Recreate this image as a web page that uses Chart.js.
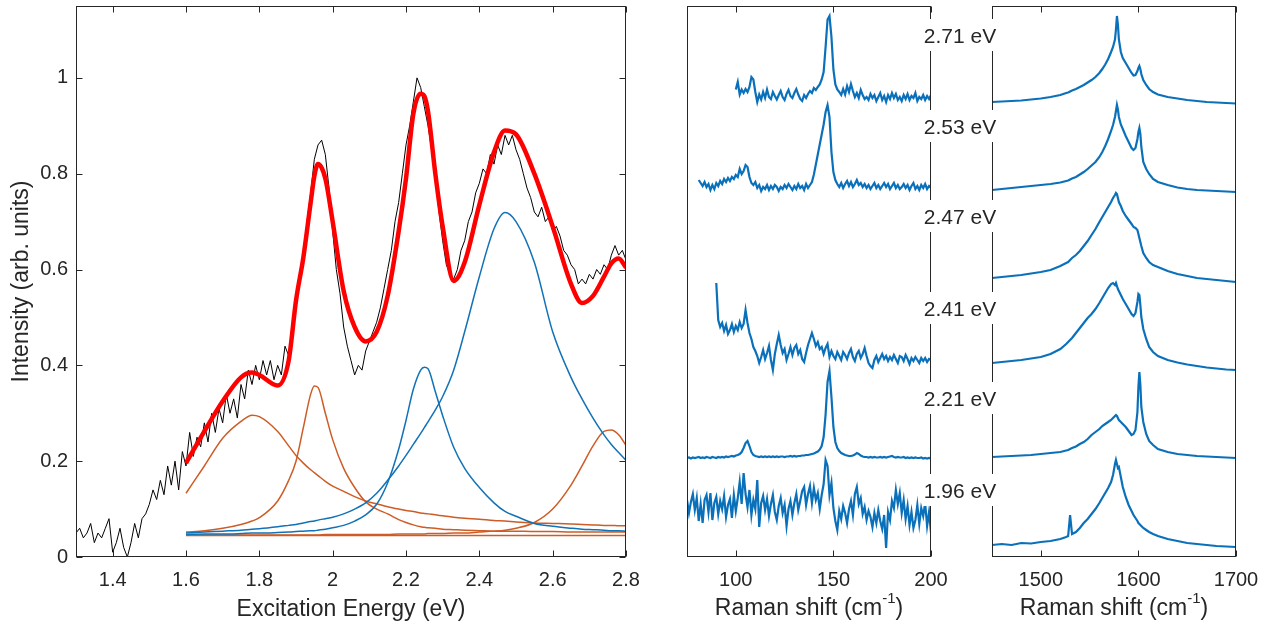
<!DOCTYPE html>
<html>
<head>
<meta charset="utf-8">
<script src="https://cdn.jsdelivr.net/npm/chart.js@4.4.0/dist/chart.umd.min.js"></script>
<style>
  body { margin: 0; background: #fff; }
  #wrap { position: relative; width: 1278px; height: 632px; overflow: hidden; }
  canvas { position: absolute; top: 0; }
</style>
</head>
<body>
<div id="wrap">
  <canvas id="excChart" width="650" height="632" style="left:0px"></canvas>
  <canvas id="lowChart" width="320" height="632" style="left:640px"></canvas>
  <canvas id="gChart" width="378" height="632" style="left:900px"></canvas>
</div>
<script>
// ---- left panel: excitation profile ----
const energyStart = 1.3, energyStep = 0.01;
const measured = [
  0.05,0.06,0.04,0.05,0.07,0.03,0.05,0.04,0.06,0.08,0.01,0.03,0.06,0.02,0.0,0.03,0.07,0.04,0.08,
  0.09,0.11,0.14,0.12,0.16,0.13,0.19,0.15,0.2,0.14,
  0.22,0.19,0.26,0.21,0.25,0.23,0.28,0.24,0.3,0.26,
  0.31,0.28,0.34,0.3,0.33,0.29,0.36,0.33,0.39,0.36,
  0.4,0.37,0.41,0.38,0.41,0.37,0.4,0.38,0.44,0.42,
  0.47,0.52,0.58,0.63,0.7,0.76,0.83,0.86,0.87,0.84,
  0.77,0.68,0.6,0.55,0.48,0.44,0.41,0.38,0.4,0.39,
  0.43,0.45,0.47,0.49,0.52,0.56,0.6,0.64,0.7,0.74,
  0.8,0.86,0.9,0.95,1.0,0.98,0.94,0.9,0.85,0.79,
  0.72,0.66,0.61,0.59,0.58,0.6,0.64,0.66,0.7,0.72,
  0.76,0.78,0.81,0.8,0.84,0.82,0.86,0.84,0.88,0.86,
  0.88,0.85,0.83,0.8,0.77,0.75,0.72,0.71,0.73,0.7,
  0.71,0.68,0.69,0.67,0.64,0.63,0.61,0.6,0.57,0.58,
  0.57,0.59,0.58,0.6,0.59,0.61,0.6,0.63,0.65,0.63,
  0.64,0.62
];

const fitX = [1.6,1.65,1.7,1.75,1.78,1.8,1.85,1.88,1.9,1.92,1.94,1.95,1.96,1.98,2.0,2.03,2.06,2.09,2.12,2.15,2.18,
  2.2,2.22,2.24,2.25,2.26,2.28,2.3,2.33,2.36,2.4,2.44,2.47,2.5,2.55,2.6,2.65,2.68,2.71,2.74,2.76,2.78,2.8];
const fitTotal = [0.196,0.262,0.325,0.375,0.385,0.38,0.358,0.41,0.535,0.625,0.74,0.795,0.82,0.79,0.7,0.555,0.48,0.45,0.47,0.545,0.68,
  0.79,0.925,0.967,0.962,0.93,0.8,0.69,0.576,0.615,0.735,0.845,0.89,0.882,0.8,0.69,0.57,0.53,0.545,0.585,0.613,0.623,0.604];
const band178 = [0.133,0.19,0.248,0.283,0.296,0.293,0.262,0.232,0.212,0.196,0.182,0.176,0.17,0.158,0.148,0.137,0.126,0.117,0.111,0.105,0.1,
  0.097,0.095,0.092,0.091,0.09,0.088,0.086,0.083,0.081,0.079,0.076,0.075,0.073,0.071,0.07,0.069,0.068,0.067,0.066,0.066,0.065,0.065];
const band195 = [0.052,0.055,0.06,0.068,0.075,0.082,0.117,0.16,0.2,0.27,0.34,0.357,0.354,0.3,0.245,0.185,0.145,0.115,0.1,0.09,0.078,
  0.072,0.067,0.063,0.062,0.061,0.06,0.058,0.057,0.056,0.055,0.054,0.054,0.054,0.053,0.053,0.052,0.052,0.052,0.052,0.052,0.052,0.052];
const band225 = [0.047,0.048,0.048,0.049,0.05,0.05,0.051,0.052,0.053,0.054,0.055,0.055,0.056,0.058,0.061,0.066,0.075,0.088,0.11,0.155,0.225,
  0.285,0.35,0.39,0.396,0.393,0.345,0.295,0.229,0.185,0.145,0.113,0.095,0.085,0.07,0.064,0.06,0.058,0.057,0.056,0.055,0.055,0.054];
const band247 = [0.05,0.052,0.054,0.056,0.058,0.059,0.063,0.066,0.068,0.071,0.074,0.075,0.077,0.08,0.083,0.09,0.1,0.113,0.133,0.16,0.19,
  0.212,0.235,0.258,0.27,0.282,0.307,0.335,0.39,0.47,0.585,0.685,0.719,0.7,0.615,0.47,0.375,0.33,0.29,0.255,0.235,0.218,0.202];
const band276 = [0.046,0.046,0.046,0.046,0.046,0.046,0.046,0.046,0.046,0.046,0.046,0.046,0.046,0.047,0.047,0.047,0.047,0.047,0.047,0.047,0.048,
  0.048,0.048,0.048,0.048,0.049,0.049,0.049,0.05,0.05,0.052,0.054,0.056,0.06,0.072,0.1,0.15,0.19,0.232,0.262,0.265,0.255,0.233];
const background = [0.045, 0.045];

const excXTicks = [1.4,1.6,1.8,2,2.2,2.4,2.6,2.8];
const excYTicks = [0,0.2,0.4,0.6,0.8,1];

// ---- middle panel: low-frequency Raman ----
const lowTicks = [100,150,200];
const lowStart = [100, 81, 90, 75, 75];
const low271 = [93.5,95,92.5,93.5,92.8,93.6,93,94,96,95.5,93,91,92.5,91.5,93,91.8,93.5,92,91.6,93,92.2,91.5,92.4,93.2,92,91.4,92.6,93.4,92.2,91.8,
  92.8,93.6,92.5,91.6,91.2,92.4,91.8,92.6,93.2,92.8,93.8,93.4,94,94.5,95.5,97,102,107.5,108.2,104,97.5,94.5,93.5,93,92.4,93.6,92.5,94.2,93,94.6,
  93.2,92,92.8,91.8,93.4,92.4,91.6,92,91.4,92.6,91.8,92.4,91.2,92,92.8,91.4,92.2,91,92.4,91.6,92.8,91.8,92.6,91.4,92,91.2,92.4,91.6,92.6,91.4,
  92.2,91.8,92.8,91.2,92,91.6,92.4,91.4,92.2,91.6,92.4];
const low253 = [75.4,74.8,74.2,75,74,74.6,73.4,74.4,73.6,74.8,74.2,75.2,74.6,75.6,75,75.8,75.2,76,75.6,76.4,76,77.6,76.6,77.2,78.4,78,76,74.8,74.4,75,
  73.8,74.4,73.2,74,73.6,74.4,73.4,74.2,73.6,74.4,74,73.2,74,73.6,74.4,73.8,74.6,74,73.4,74.2,73.6,74.6,73.8,74.2,73.4,74.6,73.8,74.4,75,76.5,
  78.5,80.5,82.5,84.5,86.5,89,90.4,88,81,77,75.4,74.6,74,74.8,73.8,74.6,75.2,74.2,75,74,74.6,75.4,74.4,74.8,74,74.6,73.8,74.4,73.6,74.2,
  74.8,73.8,74.4,73.6,74.2,74.8,74,74.6,73.6,74.2,74.8,73.8,74.4,73.6,74,74.6,73.8,74.4,73.4,74.2,74.8,73.6,74.2,73.4,74.4,73.8,74.6,73.6,74.2,73.8];
const low241 = [54.8,47.4,46,46.8,45.2,46.4,44.6,45.4,46.6,45,46.2,45.4,47,45.8,46.6,49.4,46.8,44.8,43.6,42,41.2,40.2,38.8,40,41.4,39.6,40.8,42.2,39.4,37.4,
  40.6,42.6,44.4,42.4,40.8,41.6,39.4,40.6,42,40.4,41.8,42.4,40.6,41.4,39.6,39,40.8,42.4,43.6,44.8,43.6,42.2,43,41.6,42,40.6,41.8,42.6,40,41.2,
  40.2,39.6,41,40.2,39.4,41,40.4,39.6,40.8,41.6,40,39.2,40.6,41.2,39.8,40.6,41.8,40.2,38.8,38.2,37.8,39.4,40.2,39,39.8,40.6,39.6,40.2,39.2,40,
  39.4,40.4,39.6,38.8,40.2,40,39.2,40.4,39.6,38.6,39.8,39.2,40,39.4,38.8,39.8,39.2,39.8,39,39.6,39.4];
const low221 = [19.8,19.9,19.7,19.9,19.8,19.9,20,19.8,19.9,19.8,20,19.9,19.8,20,19.9,19.8,20,19.9,20,19.9,20.1,20,20.1,20.2,20.1,20.3,20.4,20.6,21,21.8,
  22.8,23.2,22.2,21,20.4,20.2,20.1,20,20.1,20,20.1,20,20.1,20,20.1,20,20.1,20,20.1,20.1,20,20.1,20.1,20.2,20.1,20.2,20.1,20.2,20.2,20.3,
  20.3,20.4,20.4,20.5,20.6,20.7,20.9,21.1,21.5,22.2,24,28.5,35,37.2,32,26,23,21.8,21.2,20.8,20.6,20.4,20.3,20.2,20.2,20.3,20.5,20.8,20.6,20.3,
  20.1,20,20,19.9,20,19.9,20,19.9,19.9,20,19.9,20,19.9,20,20.1,20.2,20,19.9,20,19.9,19.9,20,19.8,19.9,19.8,19.9,19.8,19.9,19.8,19.8,
  19.9,19.7,19.8,19.7,19.8,19.7];
const low196 = [11.4,8.8,11,12.6,9.4,11.8,7.2,10.6,6.8,11.4,12.4,9,12.8,7.4,10.8,12,8.6,11.2,9.6,12.2,8,10.4,11.6,7.8,12.4,9.2,11.8,15,10.6,16.8,
  12.6,10,13.4,8.4,11.4,9.6,15.4,6,10.8,12.2,9.4,11.6,8.2,10.6,12.4,9,7.4,10.2,11.8,8.8,10.4,6.2,9.6,11.2,8.4,10.8,12.6,9.4,11.2,13.2,
  14,10.4,12.6,14.2,10.8,13.8,11.4,12.8,9.6,12.4,14.6,19.4,18.2,12.4,14.8,9.8,7.2,5.4,9.2,7.6,10.2,8.8,6.8,9.6,11.2,8.4,12.6,14,10.6,11.8,
  8.6,10,7.4,9.2,8,6,8.8,6.8,9.4,7.2,5.6,8.4,1.8,9,7.4,11.2,9.8,13.4,10.6,12.8,8.8,11.4,7.6,10.2,6.4,9,5.8,7.4,10.4,6.6,9.8,8.2,
  10.8,6.2,9,4.8];

// ---- right panel: G band ----
const gTicks = [1500,1600,1700];
const gX = [1450,1460,1470,1480,1490,1500,1510,1520,1526,1528,1530,1532,1536,1540,1544,1548,1552,1556,1560,1563,1566,1569,1572,1574,1576,1577,1578,
  1579,1580,1582,1584,1587,1590,1593,1595,1597,1599,1600,1601,1602,1603,1605,1608,1611,1615,1620,1630,1640,1650,1660,1670,1680,1690,1700];
const g271 = [91,91.1,91.2,91.3,91.5,91.7,92,92.4,92.8,92.9,93.1,93.3,93.6,94,94.4,94.9,95.4,96,96.8,97.6,98.5,99.6,101,102,103.5,105.5,108.2,
  106.5,103.5,101,99.8,98.8,97.8,96.8,96.3,96.4,97.2,97.8,98.2,97.6,96.6,95.4,94.4,93.6,93,92.5,92,91.7,91.4,91.2,91,90.9,90.8,90.7];
const g253 = [73.4,73.6,73.8,74,74.2,74.4,74.6,74.9,75.2,75.3,75.5,75.7,76,76.5,77,77.6,78.3,79,80,81,82.2,83.6,85.2,86.4,88,89.2,90.4,
  89.5,88,86.5,85.6,84.2,83,81.8,81.4,81.8,83.6,85,85.8,84.6,82,79,77.6,76.6,75.6,75,74.4,73.9,73.6,73.4,73.3,73.2,73.1,73];
const g247 = [55.8,56,56.2,56.4,56.7,57,57.4,58.2,58.8,59,59.4,59.8,60.4,61.2,62.2,63.2,64.4,65.6,67,68,69,70,71,71.8,72.4,72.8,72.6,
  71.8,71,70.2,69.2,68.2,67.4,66.6,66,65.8,65.4,64.6,63.8,63,62.2,60.8,59.8,59,58.4,58,57.2,56.6,56.2,55.8,55.6,55.4,55.2,55];
const g241 = [38.8,39,39.2,39.4,39.7,40,40.6,41.6,42.6,43,43.4,43.8,44.8,45.8,46.8,47.8,48.6,49.6,50.8,51.8,52.8,53.8,54.6,54.8,54.4,54.8,54.2,
  53.6,53.2,52.4,51.6,50.6,49.6,48.6,48.2,48.8,51,52.6,52.4,50.4,48,45.6,43.6,42,41,40.2,39.4,38.9,38.5,38.2,37.9,37.7,37.5,37.4];
const g221 = [20,20.1,20.2,20.3,20.4,20.6,20.8,21,21.3,21.4,21.6,21.8,22.1,22.6,23,23.6,24.4,25,25.6,26.2,26.6,27,27.4,27.8,28.2,28.4,28.2,
  27.8,27.4,27,26.6,26,25.2,24.4,24.6,25.4,29,34,37,34.5,30,27,24.6,23.2,22.4,21.6,21,20.6,20.4,20.2,20.1,20,19.9,19.8];
const g196 = [2.4,2.6,2.4,2.8,2.7,3,3.2,3.6,4,4.2,8.4,4.6,5,5.8,6.8,7.6,8.6,9.6,10.8,11.8,12.8,13.8,15,16.4,18.6,19.4,18.6,
  17.8,18,16,14,12,10.4,9.2,8.4,7.8,7.2,6.8,6.6,6.4,6.2,5.8,5.4,5,4.6,4.2,3.6,3.2,2.8,2.6,2.4,2.2,2.1,2];

const energyLabels = ['2.71 eV','2.53 eV','2.47 eV','2.41 eV','2.21 eV','1.96 eV'];
const energyLabelY = [104, 85.8, 67.8, 49.4, 31.4, 13];

// ---- styling ----
const axisColor = '#262626';
const fontFamily = "'Liberation Sans', Arial, Helvetica, sans-serif";
const brown = '#cd5c26';
const blue = '#1272b6';
const specBlue = '#0b70ba';
Chart.defaults.font.family = fontFamily;
Chart.defaults.color = axisColor;

const xy = (xs, ys) => ys.map((y, i) => ({ x: xs[i], y: y }));
const fromStart = (x0, ys) => ys.map((y, i) => ({ x: x0 + i, y: y }));

// box with inward ticks, MATLAB style
const framePlugin = {
  id: 'frame',
  afterDraw(chart, args, opts) {
    const { ctx, chartArea: a, scales } = chart;
    const L = Math.round(a.left) + 0.5, R = Math.round(a.right) - 0.5;
    const T = Math.round(a.top) + 0.5, B = Math.round(a.bottom) - 0.5;
    ctx.save();
    ctx.strokeStyle = axisColor;
    ctx.lineWidth = 1;
    ctx.strokeRect(L, T, R - L, B - T);
    ctx.beginPath();
    scales.x.ticks.forEach(t => {
      const px = Math.round(scales.x.getPixelForValue(t.value)) + 0.5;
      ctx.moveTo(px, B); ctx.lineTo(px, B - 6);
      ctx.moveTo(px, T); ctx.lineTo(px, T + 6);
    });
    if (opts.yTicks) {
      scales.y.ticks.forEach(t => {
        const py = Math.round(scales.y.getPixelForValue(t.value)) + 0.5;
        ctx.moveTo(L, py); ctx.lineTo(L + 6, py);
        ctx.moveTo(R, py); ctx.lineTo(R - 6, py);
      });
    }
    ctx.stroke();
    ctx.restore();
  }
};

// "Raman shift (cm^-1)" title with a real superscript
const ramanTitle = {
  id: 'ramanTitle',
  afterDraw(chart) {
    const { ctx, chartArea: a } = chart;
    const main = 'Raman shift (cm', sup = '-1', end = ')';
    const big = '23px ' + fontFamily, small = '15px ' + fontFamily;
    ctx.save();
    ctx.fillStyle = axisColor;
    ctx.textBaseline = 'middle';
    ctx.textAlign = 'left';
    ctx.font = big;
    const w1 = ctx.measureText(main).width, w3 = ctx.measureText(end).width;
    ctx.font = small;
    const w2 = ctx.measureText(sup).width;
    let x = (a.left + a.right) / 2 - (w1 + w2 + w3) / 2;
    const y = 609;
    ctx.font = big;
    ctx.fillText(main, x, y); x += w1;
    ctx.font = small;
    ctx.fillText(sup, x, y - 10); x += w2;
    ctx.font = big;
    ctx.fillText(end, x, y);
    ctx.restore();
  }
};

// excitation energy labels sitting between the two Raman panels
const energyLabelPlugin = {
  id: 'energyLabels',
  afterDraw(chart) {
    const { ctx, chartArea: a, scales } = chart;
    const cx = a.left - 32;
    ctx.save();
    ctx.font = '21px ' + fontFamily;
    ctx.textAlign = 'center';
    ctx.textBaseline = 'middle';
    energyLabels.forEach((t, i) => {
      const py = scales.y.getPixelForValue(energyLabelY[i]);
      ctx.fillStyle = '#fff';
      ctx.fillRect(a.left - 70, py - 18, 75, 32);
      ctx.fillStyle = axisColor;
      ctx.fillText(t, cx, py);
    });
    ctx.restore();
  }
};

const tickFont = { size: 20, family: fontFamily };
const titleFont = { size: 23, family: fontFamily };
const fixX = h => s => { s.height = h; s.paddingLeft = 0; s.paddingRight = 0; };

// ---- left chart ----
const lineDs = (label, data, color, width, smooth) => ({
  label, data, borderColor: color, borderWidth: width, pointRadius: 0,
  fill: false, cubicInterpolationMode: smooth ? 'monotone' : 'default', tension: 0
});

new Chart(document.getElementById('excChart'), {
  type: 'line',
  data: {
    datasets: [
      lineDs('fit', xy(fitX, fitTotal), '#ff0000', 4.5, true),
      lineDs('2.47 eV band', xy(fitX, band247), blue, 1.5, true),
      lineDs('2.25 eV band', xy(fitX, band225), blue, 1.5, true),
      lineDs('2.76 eV band', xy(fitX, band276), brown, 1.5, true),
      lineDs('1.95 eV band', xy(fitX, band195), brown, 1.5, true),
      lineDs('1.78 eV band', xy(fitX, band178), brown, 1.5, true),
      lineDs('background', xy([1.6, 2.8], background), brown, 1.5, false),
      lineDs('measured', measured.map((y, i) => ({ x: energyStart + i * energyStep, y })), '#000', 1, false)
    ]
  },
  options: {
    responsive: false,
    animation: false,
    layout: { padding: { top: 6, right: 24, bottom: 0, left: 0 } },
    plugins: { legend: { display: false }, tooltip: { enabled: false }, frame: { yTicks: true } },
    scales: {
      x: {
        type: 'linear', min: 1.3, max: 2.8,
        grid: { display: false, drawTicks: false }, border: { display: false },
        afterBuildTicks: s => { s.ticks = excXTicks.map(v => ({ value: v })); },
        afterFit: fixX(75),
        ticks: { font: tickFont, color: axisColor, padding: 11, maxRotation: 0, autoSkip: false,
                 callback: v => String(+v.toFixed(1)) },
        title: { display: true, text: 'Excitation Energy (eV)', font: titleFont, color: axisColor,
                 padding: { top: 0, bottom: 9 } }
      },
      y: {
        type: 'linear', min: 0, max: 1.15,
        grid: { display: false, drawTicks: false }, border: { display: false },
        afterBuildTicks: s => { s.ticks = excYTicks.map(v => ({ value: v })); },
        afterFit: s => { s.width = 76; s.paddingTop = 0; s.paddingBottom = 0; },
        ticks: { font: tickFont, color: axisColor, padding: 8, autoSkip: false,
                 callback: v => String(+v.toFixed(1)) },
        title: { display: true, text: 'Intensity (arb. units)', font: titleFont, color: axisColor,
                 padding: { top: 8, bottom: 0 } }
      }
    }
  },
  plugins: [framePlugin]
});

// ---- Raman panels ----
function ramanChart(id, xMin, xMax, ticks, seriesData, padLeft, padRight, extra) {
  return new Chart(document.getElementById(id), {
    type: 'line',
    data: {
      datasets: seriesData.map((d, i) => ({
        label: energyLabels[i], data: d, borderColor: specBlue, borderWidth: 2.2,
        pointRadius: 0, fill: false, tension: 0
      }))
    },
    options: {
      responsive: false,
      animation: false,
      layout: { padding: { top: 6, right: padRight, bottom: 0, left: padLeft } },
      plugins: { legend: { display: false }, tooltip: { enabled: false }, frame: { yTicks: false } },
      scales: {
        x: {
          type: 'linear', min: xMin, max: xMax,
          grid: { display: false, drawTicks: false }, border: { display: false },
          afterBuildTicks: s => { s.ticks = ticks.map(v => ({ value: v })); },
          afterFit: fixX(75),
          ticks: { font: tickFont, color: axisColor, padding: 11, maxRotation: 0, autoSkip: false,
                   callback: v => String(v) }
        },
        y: { type: 'linear', min: 0, max: 110.2, display: false }
      }
    },
    plugins: [framePlugin, ramanTitle].concat(extra)
  });
}

ramanChart('lowChart', 75, 200, lowTicks, [
  fromStart(lowStart[0], low271),
  fromStart(lowStart[1], low253),
  fromStart(lowStart[2], low241),
  fromStart(lowStart[3], low221),
  fromStart(lowStart[4], low196)
], 47, 29, []);

ramanChart('gChart', 1450, 1700, gTicks, [
  xy(gX, g271), xy(gX, g253), xy(gX, g247), xy(gX, g241), xy(gX, g221), xy(gX, g196)
], 92, 42, [energyLabelPlugin]);
</script>
</body>
</html>
